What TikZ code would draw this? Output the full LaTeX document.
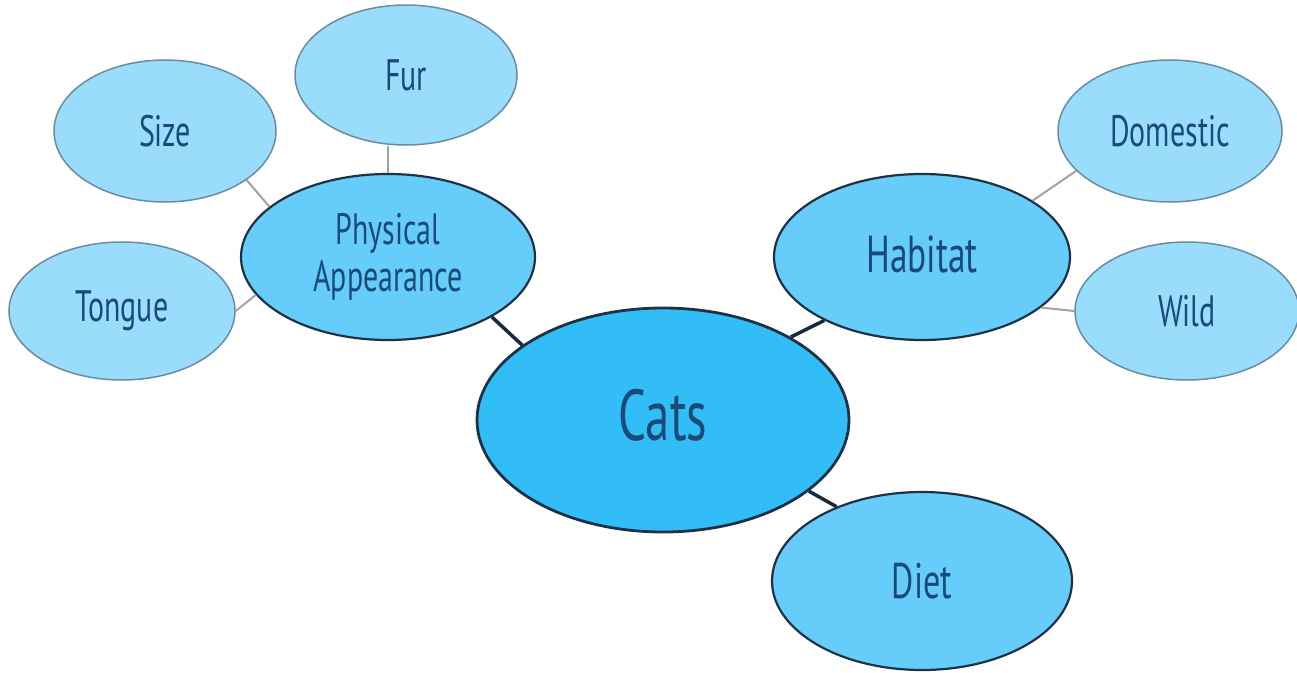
\documentclass[tikz,border=0pt]{standalone}
\usepackage{fontspec}
\newfontfamily\mapfont{PT Sans}[FakeStretch=0.68]
\usetikzlibrary{shapes.geometric}
\definecolor{catfill}{HTML}{33BDF6}
\definecolor{branchfill}{HTML}{66CCF9}
\definecolor{leaffill}{HTML}{9ADCFB}
\definecolor{leafborder}{HTML}{6A8CA3}
\definecolor{darkborder}{HTML}{1E3246}
\definecolor{labelblue}{HTML}{1A4A78}
\definecolor{leafline}{HTML}{A3A3A3}

\begin{document}
\begin{tikzpicture}[x=1pt,y=-1pt,
    topic/.style={ellipse, draw=darkborder, line width=2.8pt, fill=catfill, inner sep=0pt,
      text=labelblue, font=\mapfont\fontsize{72}{80}\selectfont},
    branch/.style={ellipse, draw=darkborder, line width=2.2pt, fill=branchfill, inner sep=0pt,
      text=labelblue, align=center},
    leaf/.style={ellipse, draw=leafborder, line width=1.5pt, fill=leaffill, inner sep=0pt,
      text=labelblue, font=\mapfont\fontsize{44}{48}\selectfont},
    mainlink/.style={draw=darkborder!85!black, line width=3.5pt},
    leaflink/.style={draw=leafline, line width=2pt}]

    \useasboundingbox (0,0) rectangle (1297,672);

    % Centre node
    \node[topic, minimum width=372pt, minimum height=224pt] (cats) at (663,420) {\raisebox{11pt}{Cats}};

    % Branch nodes
    \node[branch, minimum width=294pt, minimum height=166pt,
      font=\mapfont\fontsize{44}{47}\selectfont] (looks) at (388,257) {Physical\\Appearance};
    \node[branch, minimum width=296pt, minimum height=166pt,
      font=\mapfont\fontsize{52}{56}\selectfont] (habitat) at (922,257) {\raisebox{5pt}{Habitat}};
    \node[branch, minimum width=300pt, minimum height=178pt,
      font=\mapfont\fontsize{50}{54}\selectfont] (diet) at (922,581) {Diet};

    % Leaf nodes
    \node[leaf, minimum width=222pt, minimum height=140pt] (fur) at (406,75) {Fur};
    \node[leaf, minimum width=222pt, minimum height=142pt] (size) at (165,131) {Size};
    \node[leaf, minimum width=226pt, minimum height=138pt] (tongue) at (122,311) {Tongue};
    \node[leaf, minimum width=224pt, minimum height=142pt] (domestic) at (1170,131) {Domestic};
    \node[leaf, minimum width=224pt, minimum height=138pt] (wild) at (1187,311) {Wild};

    % Links from the centre
    \draw[mainlink] (cats.152) -- (looks.-30);
    \draw[mainlink] (cats.33) -- (habitat.213);
    \draw[mainlink] (cats.-26) -- (diet.139);

    % Links to the leaves
    \draw[leaflink] (looks.north) -- (looks.north |- fur.south);
    \draw[leaflink] (looks.157) -- (size.-31);
    \draw[leaflink] (looks.196) -- (tongue.east);
    \draw[leaflink] (habitat.27) -- (domestic.203);
    \draw[leaflink] (habitat.-23) -- (wild.west);

\end{tikzpicture}
\end{document}
